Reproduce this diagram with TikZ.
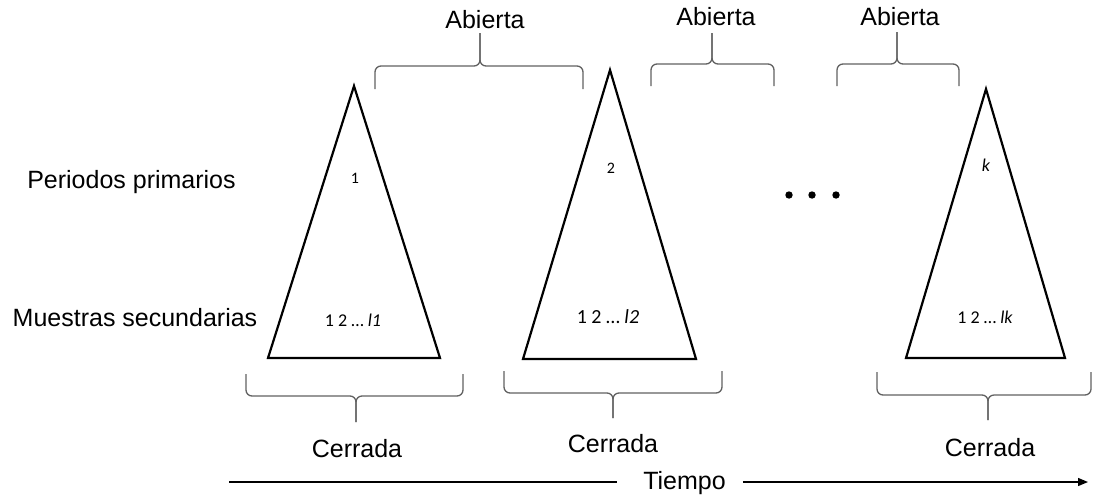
\documentclass[tikz,border=0pt]{standalone}
\usepackage{fontspec}
\setmainfont{Liberation Sans}
\newfontfamily\numfont{Carlito}
\usetikzlibrary{arrows.meta}

% curly brace: ends at y=#4, bar at y=#5, stem tip at y=#6, between x=#1 and x=#2, stem at x=#3
\newcommand\curlyb[6]{%
  \draw[curly] (#1,#4) -- (#1,#5) -- (#3,#5) -- (#3,#6);
  \draw[curly] (#2,#4) -- (#2,#5) -- (#3,#5) -- (#3,#6);
}

\begin{document}
\begin{tikzpicture}[x=1pt,y=-1pt,
  lbl/.style={font=\fontsize{25}{30}\selectfont, inner sep=0pt, anchor=base},
  num/.style={font=\numfont\fontsize{#1}{#1}\selectfont, inner sep=0pt, anchor=base},
  tri/.style={draw, line width=2.2pt},
  curly/.style={draw=black!62, line width=1.3pt, rounded corners=6pt},
  timeline/.style={line width=1.3pt},
  dotmark/.style={circle, fill=black, inner sep=0pt, minimum size=7.4pt}]
\useasboundingbox (0,0) rectangle (1094,496);

% row labels
\node[lbl] (prim) at (131.5,188) {Periodos primarios};
\node[lbl] (sec)  at (135,326)   {Muestras secundarias};

% primary periods
\draw[tri] (354,86) -- (440,358) -- (268,358) -- cycle;
\draw[tri] (610,70) -- (696,359) -- (523,359) -- cycle;
\draw[tri] (986,89) -- (1065,358) -- (906,358) -- cycle;

\node[num=16] (p1) at (355,183) {1};
\node[num=16] (p2) at (611,173) {2};
\node[num=18] (pk) at (986,171) {\itshape k};

\node[num=18] (s1) at (353,326) {1 2 … \itshape l1};
\node[num=20] (s2) at (608,323) {1 2 … \itshape l2};
\node[num=18] (sk) at (985,323) {1 2 … \itshape lk};

% ellipsis between periods
\node[dotmark] (d1) at (789,195) {};
\node[dotmark] (d2) at (812,195) {};
\node[dotmark] (d3) at (836,195) {};

% open intervals
\curlyb{375}{583}{480}{89}{66}{33}
\curlyb{651}{774}{712}{86}{64}{33}
\curlyb{837}{959}{897}{86}{64}{32}
\node[lbl] (ab1) at (485,28.5) {Abierta};
\node[lbl] (ab2) at (716,25)   {Abierta};
\node[lbl] (ab3) at (900,25)   {Abierta};

% closed intervals
\curlyb{246}{463}{356}{374}{396}{422}
\curlyb{504}{722}{613}{371}{393}{418}
\curlyb{877}{1091}{988}{372}{395}{420}
\node[lbl] (ce1) at (357,457) {Cerrada};
\node[lbl] (ce2) at (613,452) {Cerrada};
\node[lbl] (ce3) at (990,456) {Cerrada};

% time axis
\node[lbl] (tiempo) at (684.5,489) {Tiempo};
\coordinate (tstart) at (229,482);
\coordinate (tend) at (1088,482);
\draw[timeline] (tstart) -- ([xshift=-26pt]tiempo.west |- tstart);
\draw[timeline, -{Triangle[length=10pt,width=8pt]}] ([xshift=17pt]tiempo.east |- tstart) -- (tend);
\end{tikzpicture}
\end{document}
